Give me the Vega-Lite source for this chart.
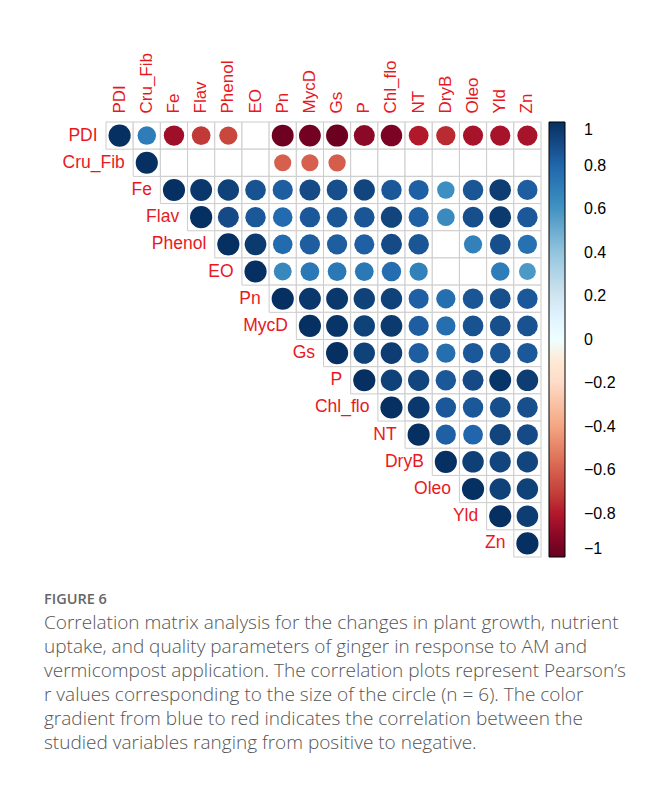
{
  "$schema": "https://vega.github.io/schema/vega-lite/v6.json",
  "width": 435,
  "height": 435,
  "autosize": {"type": "none"},
  "padding": {"left": 106, "top": 122, "right": 107, "bottom": 232},
  "background": "white",
  "config": {"view": {"stroke": null}, "font": "Liberation Sans"},
  "title": {
    "text": "FIGURE 6",
    "subtitle": [
      "Correlation matrix analysis for the changes in plant growth, nutrient",
      "uptake, and quality parameters of ginger in response to AM and",
      "vermicompost application. The correlation plots represent Pearson’s",
      "r values corresponding to the size of the circle (n = 6). The color",
      "gradient from blue to red indicates the correlation between the",
      "studied variables ranging from positive to negative."
    ],
    "orient": "bottom",
    "anchor": "start",
    "frame": "group",
    "offset": 35,
    "dx": -62,
    "font": "Open Sans",
    "fontSize": 14.5,
    "fontWeight": 600,
    "color": "#666666",
    "subtitleFont": "Open Sans",
    "subtitleFontSize": 19,
    "subtitleFontWeight": 300,
    "subtitleColor": "#555555",
    "subtitleLineHeight": 24,
    "subtitlePadding": 6
  },
  "data": {"values": [
    {"a":"PDI","b":"PDI","r":1},{"a":"PDI","b":"Cru_Fib","r":0.7},{"a":"PDI","b":"Fe","r":-0.85},{"a":"PDI","b":"Flav","r":-0.72},{"a":"PDI","b":"Phenol","r":-0.68},{"a":"PDI","b":"EO","r":null},{"a":"PDI","b":"Pn","r":-0.98},{"a":"PDI","b":"MycD","r":-0.97},{"a":"PDI","b":"Gs","r":-0.99},{"a":"PDI","b":"P","r":-0.9},{"a":"PDI","b":"Chl_flo","r":-0.94},{"a":"PDI","b":"NT","r":-0.8},{"a":"PDI","b":"DryB","r":-0.76},{"a":"PDI","b":"Oleo","r":-0.83},{"a":"PDI","b":"Yld","r":-0.83},{"a":"PDI","b":"Zn","r":-0.83},
    {"a":"Cru_Fib","b":"Cru_Fib","r":1},{"a":"Cru_Fib","b":"Fe","r":null},{"a":"Cru_Fib","b":"Flav","r":null},{"a":"Cru_Fib","b":"Phenol","r":null},{"a":"Cru_Fib","b":"EO","r":null},{"a":"Cru_Fib","b":"Pn","r":-0.6},{"a":"Cru_Fib","b":"MycD","r":-0.6},{"a":"Cru_Fib","b":"Gs","r":-0.61},{"a":"Cru_Fib","b":"P","r":null},{"a":"Cru_Fib","b":"Chl_flo","r":null},{"a":"Cru_Fib","b":"NT","r":null},{"a":"Cru_Fib","b":"DryB","r":null},{"a":"Cru_Fib","b":"Oleo","r":null},{"a":"Cru_Fib","b":"Yld","r":null},{"a":"Cru_Fib","b":"Zn","r":null},
    {"a":"Fe","b":"Fe","r":1},{"a":"Fe","b":"Flav","r":0.97},{"a":"Fe","b":"Phenol","r":0.93},{"a":"Fe","b":"EO","r":0.87},{"a":"Fe","b":"Pn","r":0.83},{"a":"Fe","b":"MycD","r":0.9},{"a":"Fe","b":"Gs","r":0.88},{"a":"Fe","b":"P","r":0.92},{"a":"Fe","b":"Chl_flo","r":0.85},{"a":"Fe","b":"NT","r":0.82},{"a":"Fe","b":"DryB","r":0.62},{"a":"Fe","b":"Oleo","r":0.86},{"a":"Fe","b":"Yld","r":0.95},{"a":"Fe","b":"Zn","r":0.83},
    {"a":"Flav","b":"Flav","r":1},{"a":"Flav","b":"Phenol","r":0.9},{"a":"Flav","b":"EO","r":0.85},{"a":"Flav","b":"Pn","r":0.78},{"a":"Flav","b":"MycD","r":0.85},{"a":"Flav","b":"Gs","r":0.86},{"a":"Flav","b":"P","r":0.86},{"a":"Flav","b":"Chl_flo","r":0.92},{"a":"Flav","b":"NT","r":0.82},{"a":"Flav","b":"DryB","r":0.64},{"a":"Flav","b":"Oleo","r":0.88},{"a":"Flav","b":"Yld","r":0.96},{"a":"Flav","b":"Zn","r":0.85},
    {"a":"Phenol","b":"Phenol","r":1},{"a":"Phenol","b":"EO","r":0.96},{"a":"Phenol","b":"Pn","r":0.78},{"a":"Phenol","b":"MycD","r":0.83},{"a":"Phenol","b":"Gs","r":0.83},{"a":"Phenol","b":"P","r":0.82},{"a":"Phenol","b":"Chl_flo","r":0.9},{"a":"Phenol","b":"NT","r":0.86},{"a":"Phenol","b":"DryB","r":null},{"a":"Phenol","b":"Oleo","r":0.68},{"a":"Phenol","b":"Yld","r":0.88},{"a":"Phenol","b":"Zn","r":0.75},
    {"a":"EO","b":"EO","r":1},{"a":"EO","b":"Pn","r":0.65},{"a":"EO","b":"MycD","r":0.72},{"a":"EO","b":"Gs","r":0.72},{"a":"EO","b":"P","r":0.72},{"a":"EO","b":"Chl_flo","r":0.77},{"a":"EO","b":"NT","r":0.68},{"a":"EO","b":"DryB","r":null},{"a":"EO","b":"Oleo","r":null},{"a":"EO","b":"Yld","r":0.7},{"a":"EO","b":"Zn","r":0.58},
    {"a":"Pn","b":"Pn","r":1},{"a":"Pn","b":"MycD","r":0.97},{"a":"Pn","b":"Gs","r":0.97},{"a":"Pn","b":"P","r":0.93},{"a":"Pn","b":"Chl_flo","r":0.93},{"a":"Pn","b":"NT","r":0.82},{"a":"Pn","b":"DryB","r":0.76},{"a":"Pn","b":"Oleo","r":0.86},{"a":"Pn","b":"Yld","r":0.88},{"a":"Pn","b":"Zn","r":0.85},
    {"a":"MycD","b":"MycD","r":1},{"a":"MycD","b":"Gs","r":0.98},{"a":"MycD","b":"P","r":0.93},{"a":"MycD","b":"Chl_flo","r":0.96},{"a":"MycD","b":"NT","r":0.83},{"a":"MycD","b":"DryB","r":0.76},{"a":"MycD","b":"Oleo","r":0.87},{"a":"MycD","b":"Yld","r":0.88},{"a":"MycD","b":"Zn","r":0.87},
    {"a":"Gs","b":"Gs","r":1},{"a":"Gs","b":"P","r":0.93},{"a":"Gs","b":"Chl_flo","r":0.95},{"a":"Gs","b":"NT","r":0.83},{"a":"Gs","b":"DryB","r":0.76},{"a":"Gs","b":"Oleo","r":0.85},{"a":"Gs","b":"Yld","r":0.86},{"a":"Gs","b":"Zn","r":0.85},
    {"a":"P","b":"P","r":1},{"a":"P","b":"Chl_flo","r":0.93},{"a":"P","b":"NT","r":0.92},{"a":"P","b":"DryB","r":0.85},{"a":"P","b":"Oleo","r":0.9},{"a":"P","b":"Yld","r":0.98},{"a":"P","b":"Zn","r":0.95},
    {"a":"Chl_flo","b":"Chl_flo","r":1},{"a":"Chl_flo","b":"NT","r":0.97},{"a":"Chl_flo","b":"DryB","r":0.85},{"a":"Chl_flo","b":"Oleo","r":0.85},{"a":"Chl_flo","b":"Yld","r":0.88},{"a":"Chl_flo","b":"Zn","r":0.88},
    {"a":"NT","b":"NT","r":1},{"a":"NT","b":"DryB","r":0.82},{"a":"NT","b":"Oleo","r":0.8},{"a":"NT","b":"Yld","r":0.92},{"a":"NT","b":"Zn","r":0.9},
    {"a":"DryB","b":"DryB","r":1},{"a":"DryB","b":"Oleo","r":0.94},{"a":"DryB","b":"Yld","r":0.92},{"a":"DryB","b":"Zn","r":0.92},
    {"a":"Oleo","b":"Oleo","r":1},{"a":"Oleo","b":"Yld","r":0.93},{"a":"Oleo","b":"Zn","r":0.93},
    {"a":"Yld","b":"Yld","r":1},{"a":"Yld","b":"Zn","r":0.95},
    {"a":"Zn","b":"Zn","r":1}
  ]},
  "encoding": {
    "x": {"field": "b", "type": "nominal", "title": null,
      "scale": {"type": "band", "domain": ["PDI","Cru_Fib","Fe","Flav","Phenol","EO","Pn","MycD","Gs","P","Chl_flo","NT","DryB","Oleo","Yld","Zn"], "paddingInner": 0, "paddingOuter": 0},
      "axis": {"orient": "top", "labelAngle": -90, "labelColor": "#e8191e", "labelFontSize": 17, "labelFont": "Liberation Sans", "ticks": false, "domain": false, "labelPadding": 9}},
    "y": {"field": "a", "type": "nominal", "title": null,
      "scale": {"type": "band", "domain": ["PDI","Cru_Fib","Fe","Flav","Phenol","EO","Pn","MycD","Gs","P","Chl_flo","NT","DryB","Oleo","Yld","Zn"], "paddingInner": 0, "paddingOuter": 0},
      "axis": null}
  },
  "layer": [
    {"mark": {"type": "rect", "fill": "white", "stroke": "#cccccc", "strokeWidth": 1}},
    {"transform": [{"filter": "datum.r != null"}],
     "mark": {"type": "circle", "opacity": 1, "strokeWidth": 0},
     "encoding": {
       "color": {"field": "r", "type": "quantitative",
         "scale": {"domain": [-1,-0.8,-0.6,-0.4,-0.2,0,0.2,0.4,0.6,0.8,1], "range": ["#67001F","#B2182B","#D6604D","#F4A582","#FDDBC7","#FFFFFF","#D1E5F0","#92C5DE","#4393C3","#2166AC","#053061"]},
         "legend": {"title": null, "orient": "right", "offset": 8, "direction": "vertical", "gradientLength": 435, "gradientThickness": 16, "gradientStrokeColor": "black", "gradientStrokeWidth": 1, "values": [-1,-0.8,-0.6,-0.4,-0.2,0,0.2,0.4,0.6,0.8,1], "format": "~g", "labelFontSize": 16, "labelFontWeight": "normal", "labelColor": "black", "labelFont": "Liberation Sans", "labelOffset": 19, "labelAlign": "center", "labelOverlap": false, "labelBaseline": "middle", "padding": 0}},
       "size": {"field": "r", "type": "quantitative", "scale": {"domain": [-1, 0, 1], "range": [491, 0, 491]}, "legend": null}
     }},
    {"transform": [{"filter": "datum.a == datum.b"}],
     "mark": {"type": "text", "align": "right", "baseline": "middle", "dx": -22, "color": "#e8191e", "fontSize": 17.5, "font": "Liberation Sans"},
     "encoding": {"text": {"field": "a"}}}
  ]
}
